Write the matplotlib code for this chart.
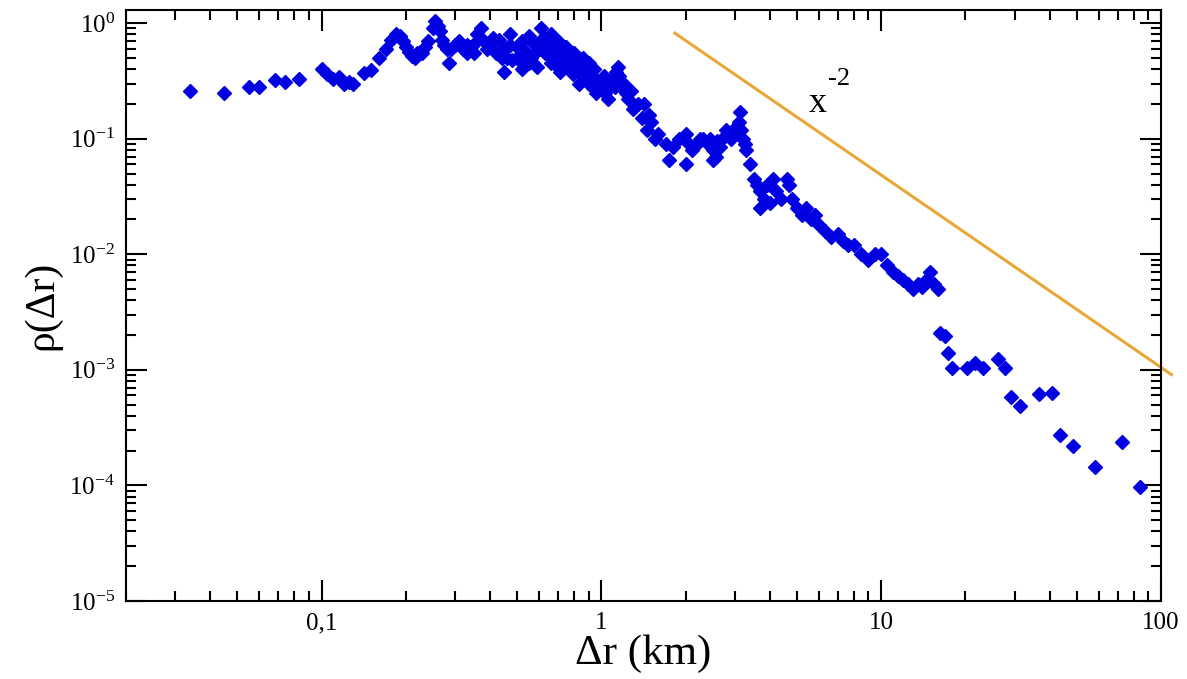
import matplotlib
matplotlib.use("Agg")
import matplotlib.pyplot as plt
from matplotlib.ticker import FixedLocator, FixedFormatter, LogLocator, NullFormatter

plt.rcParams["font.family"] = ["Liberation Serif", "DejaVu Serif"]
plt.rcParams["mathtext.fontset"] = "custom"
plt.rcParams["mathtext.rm"] = "Liberation Serif"
plt.rcParams["mathtext.it"] = "Liberation Serif:italic"
plt.rcParams["axes.unicode_minus"] = False

# pair-distance distribution
dr_km = [0.034, 0.045, 0.055, 0.06, 0.068, 0.074, 0.083, 0.1, 0.105, 0.11,
         0.115, 0.12, 0.125, 0.13, 0.142, 0.15, 0.16, 0.17, 0.177, 0.185,
         0.19, 0.195, 0.2, 0.205, 0.21, 0.215, 0.22, 0.228, 0.235, 0.24,
         0.25, 0.255, 0.26, 0.265, 0.27, 0.275, 0.28, 0.285, 0.29, 0.3,
         0.31, 0.32, 0.33, 0.34, 0.35, 0.36, 0.37, 0.38, 0.39, 0.4,
         0.42, 0.44, 0.46, 0.48, 0.5, 0.52, 0.54, 0.56, 0.58, 0.6,
         0.61, 0.62, 0.63, 0.65, 0.67, 0.68, 0.7, 0.72, 0.74, 0.76,
         0.78, 0.8, 0.82, 0.85, 0.88, 0.9, 0.93, 0.96, 1.0, 1.03,
         1.06, 1.1, 1.13, 1.16, 1.2, 1.25, 1.3, 1.35, 1.4, 1.45,
         1.5, 1.55, 1.6, 1.7, 1.8, 1.9, 2.0, 2.1, 2.2, 2.3,
         2.4, 2.5, 2.6, 2.7, 2.8, 2.9, 3.0, 3.1, 3.2, 3.3,
         3.4, 3.5, 3.6, 3.7, 3.8, 3.9, 4.0, 4.2, 4.4, 4.6,
         4.7, 4.8, 5.0, 5.2, 5.4, 5.6, 5.8, 6.0, 6.3, 6.6,
         7.0, 7.3, 7.6, 8.0, 8.5, 9.0, 9.5, 10.0, 10.5, 11.0,
         11.5, 12.0, 12.5, 13.0, 13.5, 14.0, 14.5, 15.0, 15.5, 16.0,
         16.2, 16.9, 17.4, 17.9, 20.2, 21.6, 23.1, 26.2, 27.7, 29.0,
         31.3, 36.5, 40.7, 43.6, 48.6, 58.1, 72.4, 84.2,
         0.33, 0.36, 0.41, 0.45, 0.47, 0.5, 0.53, 0.57, 0.64, 0.66,
         0.69, 0.73, 0.77, 0.84, 0.87, 0.92, 0.95, 0.98, 1.08, 1.18,
         1.22, 1.28, 1.42, 1.48, 2.05, 2.45, 2.65, 3.05, 3.15, 3.25,
         0.45, 0.52, 0.55, 0.59, 0.71, 0.75, 0.79, 0.83, 1.75, 2.0,
         2.25, 2.5, 2.57, 3.12, 3.7, 4.1,
         0.43, 0.47, 0.52, 0.55, 0.62, 0.66, 0.7, 0.74, 0.8, 0.86,
         0.9, 0.94, 1.02, 1.12, 1.15]
rho = [0.26, 0.25, 0.28, 0.28, 0.32, 0.31, 0.33, 0.4, 0.36, 0.33,
       0.34, 0.3, 0.31, 0.3, 0.37, 0.39, 0.5, 0.6, 0.72, 0.8,
       0.78, 0.7, 0.62, 0.56, 0.52, 0.5, 0.55, 0.55, 0.62, 0.7,
       0.9, 1.05, 0.95, 0.85, 0.72, 0.65, 0.6, 0.45, 0.6, 0.65,
       0.7, 0.6, 0.55, 0.62, 0.55, 0.8, 0.9, 0.7, 0.6, 0.65,
       0.55, 0.5, 0.5, 0.48, 0.5, 0.45, 0.52, 0.5, 0.55, 0.62,
       0.9, 0.75, 0.55, 0.6, 0.5, 0.45, 0.55, 0.5, 0.45, 0.42,
       0.5, 0.55, 0.4, 0.35, 0.33, 0.3, 0.28, 0.25, 0.3, 0.25,
       0.22, 0.33, 0.38, 0.35, 0.3, 0.22, 0.18, 0.2, 0.15, 0.12,
       0.14, 0.1, 0.11, 0.09, 0.085, 0.1, 0.11, 0.08, 0.09, 0.1,
       0.09, 0.08, 0.095, 0.1, 0.12, 0.1, 0.11, 0.14, 0.1, 0.08,
       0.06, 0.045, 0.04, 0.035, 0.03, 0.04, 0.028, 0.035, 0.03, 0.045,
       0.04, 0.03, 0.025, 0.022, 0.025, 0.02, 0.022, 0.018, 0.016, 0.014,
       0.015, 0.013, 0.012, 0.012, 0.01, 0.009, 0.01, 0.01, 0.008, 0.007,
       0.0065, 0.006, 0.0055, 0.005, 0.0055, 0.0052, 0.006, 0.007, 0.0055, 0.005,
       0.00207, 0.00196, 0.00141, 0.00103, 0.00103, 0.00114, 0.00104, 0.00123, 0.00103, 0.000585,
       0.000486, 0.000614, 0.000626, 0.000273, 0.00022, 0.000145, 0.000239, 0.0000962,
       0.65, 0.7, 0.75, 0.6, 0.65, 0.62, 0.58, 0.68, 0.7, 0.45,
       0.62, 0.6, 0.55, 0.45, 0.4, 0.38, 0.33, 0.3, 0.3, 0.28,
       0.25, 0.26, 0.2, 0.16, 0.09, 0.1, 0.085, 0.13, 0.12, 0.09,
       0.38, 0.4, 0.78, 0.42, 0.38, 0.62, 0.36, 0.3, 0.065, 0.06,
       0.1, 0.065, 0.07, 0.17, 0.025, 0.045,
       0.72, 0.8, 0.7, 0.45, 0.65, 0.8, 0.7, 0.62, 0.45, 0.5,
       0.45, 0.4, 0.35, 0.28, 0.42]

# x^-2 guide line end points
guide_x = [1.83, 109.0]
guide_y = [0.82, 0.00091]

fig = plt.figure(figsize=(11.87, 6.79), dpi=100)
ax = fig.add_axes([0.1061, 0.1149, 0.9781 - 0.1061, 0.9853 - 0.1149])

ax.plot(dr_km, rho, ls="none", marker="D", ms=7.5, color="#0000e0",
        mec="#0000e0")
ax.plot(guide_x, guide_y, color="#e8a838", lw=2.2, clip_on=False)
ax.text(5.95, 0.2, "x", fontsize=26, ha="center", va="center")
ax.text(7.05, 0.33, "-2", fontsize=19, ha="center", va="center")

ax.set_xscale("log")
ax.set_yscale("log")
ax.set_xlim(0.02, 100)
ax.set_ylim(1e-5, 1.3)

ax.xaxis.set_major_locator(FixedLocator([0.1, 1, 10, 100]))
ax.xaxis.set_major_formatter(FixedFormatter(["0,1", "1", "10", "100"]))
ax.xaxis.set_minor_locator(LogLocator(base=10, subs=range(2, 10)))
ax.xaxis.set_minor_formatter(NullFormatter())
ax.yaxis.set_minor_locator(LogLocator(base=10, subs=range(2, 10)))
ax.yaxis.set_minor_formatter(NullFormatter())

ax.tick_params(which="both", direction="in", top=True, right=True, width=1.5)
ax.tick_params(which="major", length=15, labelsize=18, pad=8)
ax.tick_params(which="minor", length=7)
for sp in ax.spines.values():
    sp.set_linewidth(1.5)

ax.set_xlabel("\u0394r (km)", fontsize=31, labelpad=0)
ax.set_ylabel("\u03c1(\u0394r)", fontsize=30, labelpad=6)

fig.savefig("out.png", dpi=100)
